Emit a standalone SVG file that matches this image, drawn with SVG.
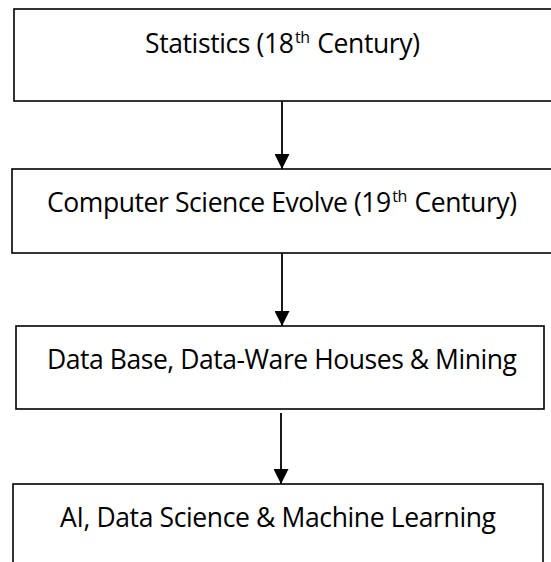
<svg xmlns="http://www.w3.org/2000/svg" width="551" height="562" viewBox="0 0 551 562">
  <style>
    .box { fill: #fff; stroke: #000; stroke-width: 1.6; }
    .lbl { font-family: "Open Sans", "Liberation Sans", sans-serif; font-size: 26.5px; fill: #000; text-anchor: middle; }
    .sup { font-size: 16px; }
    .wire { stroke: #000; stroke-width: 1.8; fill: none; }
  </style>
  <defs>
    <marker id="head" markerUnits="userSpaceOnUse" viewBox="0 0 15 15" markerWidth="15" markerHeight="15" refX="15" refY="7.5" orient="auto">
      <path d="M0,0 L15,7.5 L0,15 Z" fill="#000"/>
    </marker>
  </defs>
  <rect width="551" height="562" fill="#fff"/>

  <g id="statistics">
    <rect class="box" x="14" y="9" width="560" height="92"/>
    <text class="lbl" x="282.5" y="53" textLength="275" lengthAdjust="spacing">Statistics (18<tspan class="sup" dx="1.5" dy="-10">th</tspan><tspan dx="1" dy="10"> Century)</tspan></text>
  </g>

  <g id="computer-science">
    <rect class="box" x="12" y="169" width="560" height="84"/>
    <text class="lbl" x="282" y="212" textLength="470" lengthAdjust="spacing">Computer Science Evolve (19<tspan class="sup" dx="1.5" dy="-10">th</tspan><tspan dx="1" dy="10"> Century)</tspan></text>
  </g>

  <g id="data-base">
    <rect class="box" x="16" y="326" width="528" height="83"/>
    <text class="lbl" x="282" y="369" textLength="470" lengthAdjust="spacing">Data Base, Data-Ware Houses &amp; Mining</text>
  </g>

  <g id="ai-ml">
    <rect class="box" x="13" y="484" width="530" height="100"/>
    <text class="lbl" x="278" y="527" textLength="436" lengthAdjust="spacing">AI, Data Science &amp; Machine Learning</text>
  </g>

  <g id="connectors">
    <line class="wire" x1="282" y1="101" x2="282" y2="169" marker-end="url(#head)"/>
    <line class="wire" x1="282" y1="253" x2="282" y2="326" marker-end="url(#head)"/>
    <line class="wire" x1="281" y1="413" x2="281" y2="484" marker-end="url(#head)"/>
  </g>
</svg>
